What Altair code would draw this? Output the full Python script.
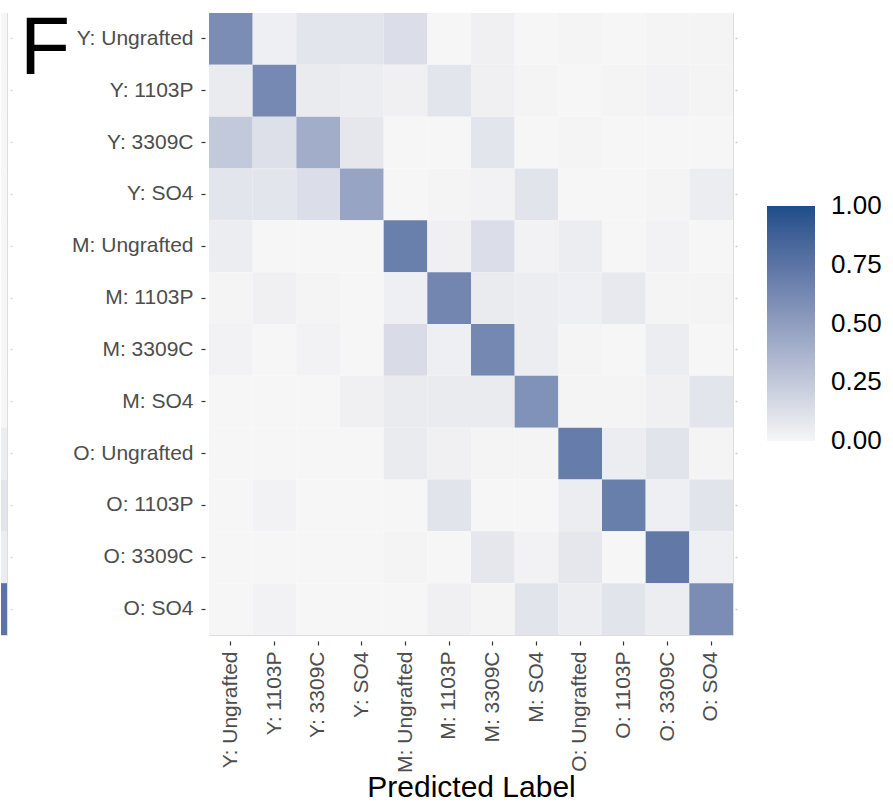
import altair as alt
import pandas as pd

labels = ["Y: Ungrafted", "Y: 1103P", "Y: 3309C", "Y: SO4",
          "M: Ungrafted", "M: 1103P", "M: 3309C", "M: SO4",
          "O: Ungrafted", "O: 1103P", "O: 3309C", "O: SO4"]

# rows = true label, columns = predicted label
row_y_ungrafted = [0.60, 0.04, 0.09, 0.09, 0.13, 0.00, 0.03, 0.00, 0.01, 0.00, 0.01, 0.01]
row_y_1103p     = [0.06, 0.62, 0.06, 0.05, 0.03, 0.09, 0.03, 0.01, 0.00, 0.01, 0.02, 0.01]
row_y_3309c     = [0.25, 0.12, 0.41, 0.08, 0.00, 0.00, 0.09, 0.00, 0.01, 0.00, 0.00, 0.00]
row_y_so4       = [0.09, 0.09, 0.13, 0.46, 0.00, 0.01, 0.02, 0.10, 0.00, 0.00, 0.01, 0.05]
row_m_ungrafted = [0.05, 0.00, 0.00, 0.00, 0.68, 0.03, 0.13, 0.02, 0.05, 0.00, 0.02, 0.00]
row_m_1103p     = [0.01, 0.03, 0.01, 0.00, 0.04, 0.64, 0.06, 0.05, 0.04, 0.07, 0.01, 0.01]
row_m_3309c     = [0.02, 0.00, 0.02, 0.00, 0.14, 0.04, 0.63, 0.05, 0.01, 0.00, 0.05, 0.00]
row_m_so4       = [0.00, 0.00, 0.00, 0.03, 0.06, 0.06, 0.06, 0.57, 0.01, 0.01, 0.03, 0.09]
row_o_ungrafted = [0.00, 0.00, 0.00, 0.00, 0.06, 0.03, 0.01, 0.01, 0.70, 0.05, 0.10, 0.01]
row_o_1103p     = [0.00, 0.02, 0.00, 0.00, 0.00, 0.10, 0.00, 0.00, 0.05, 0.69, 0.04, 0.10]
row_o_3309c     = [0.00, 0.00, 0.00, 0.00, 0.01, 0.00, 0.08, 0.02, 0.08, 0.00, 0.72, 0.04]
row_o_so4       = [0.00, 0.02, 0.00, 0.00, 0.00, 0.03, 0.01, 0.10, 0.05, 0.10, 0.05, 0.60]

# last column of the neighbouring panel (cut off at the left edge)
neighbour_strip = [0.00, 0.00, 0.00, 0.00, 0.00, 0.00, 0.00, 0.00, 0.05, 0.09, 0.05, 0.75]

legend_values = [0, 0.25, 0.5, 0.75, 1.0]

rows = [row_y_ungrafted, row_y_1103p, row_y_3309c, row_y_so4,
        row_m_ungrafted, row_m_1103p, row_m_3309c, row_m_so4,
        row_o_ungrafted, row_o_1103p, row_o_3309c, row_o_so4]

records = []
for true_lab, vals in zip(labels, rows):
    for pred_lab, v in zip(labels, vals):
        records.append({"true": true_lab, "pred": pred_lab, "value": v})
df = pd.DataFrame(records)
strip_df = pd.DataFrame({"true": labels, "value": neighbour_strip})

FONT = "Liberation Sans"
LOW, HIGH = "#f6f6f6", "#1d4e8a"

def color_scale():
    # tiny margin so the end labels of the gradient legend stay centred on their value
    return alt.Scale(domain=[-0.0005, 1.0005], range=[LOW, HIGH], interpolate="lab")

heat = alt.Chart(df).mark_rect().encode(
    x=alt.X("pred:N", sort=labels, title="Predicted Label",
            axis=alt.Axis(labelAngle=270, labelFontSize=21, labelColor="#4d4d4d",
                          labelFont=FONT, domain=False, tickColor="#333333",
                          tickSize=4, tickWidth=1.2, offset=6, labelPadding=6,
                          titleFontSize=30, titleFont=FONT, titleColor="#000000",
                          titleFontWeight="normal", titlePadding=0)),
    y=alt.Y("true:N", sort=labels, title=None,
            axis=alt.Axis(labelFontSize=21, labelColor="#4d4d4d", labelFont=FONT,
                          domain=False, tickColor="#333333", tickSize=4,
                          tickWidth=1.2, offset=4, labelPadding=8)),
    color=alt.Color("value:Q", scale=color_scale(),
                    legend=alt.Legend(title=None, orient="none", legendX=558, legendY=193,
                                      gradientLength=235, gradientThickness=48,
                                      labelFontSize=26, labelFont=FONT,
                                      labelColor="#000000", labelOffset=16,
                                      values=legend_values, format=".2f",
                                      padding=0, gradientStrokeWidth=0)),
)

right_ticks = alt.Chart(df).mark_rect(opacity=0).encode(
    y=alt.Y("true:N", sort=labels,
            axis=alt.Axis(orient="right", labels=False, domain=False, title=None,
                          tickColor="#cfcfcf", tickSize=2, tickWidth=1.5, offset=2)),
)

main = alt.layer(heat, right_ticks).resolve_axis(y="independent").properties(
    width=524, height=622)

strip = alt.Chart(strip_df).mark_rect().encode(
    y=alt.Y("true:N", sort=labels,
            axis=alt.Axis(orient="right", labels=False, domain=False, title=None,
                          tickColor="#d8d8d8", tickSize=2, tickWidth=1.5, offset=3)),
    color=alt.Color("value:Q", scale=color_scale(), legend=None),
)

letter = alt.Chart(alt.Data(values=[{"t": "F"}])).mark_text(
    font=FONT, fontSize=82, color="#000000", align="left", baseline="alphabetic"
).encode(x=alt.value(19), y=alt.value(61), text="t:N")

left = alt.layer(strip, letter).properties(width=6, height=622)

chart = alt.hconcat(left, main, spacing=202, bounds="flush").resolve_scale(
    color="independent"
).properties(
    padding={"left": 0, "top": 7, "right": 0, "bottom": 0}
).configure_view(stroke=None).configure(background="#ffffff")

chart.save("out.html", embed_options={"renderer": "svg", "actions": False})
